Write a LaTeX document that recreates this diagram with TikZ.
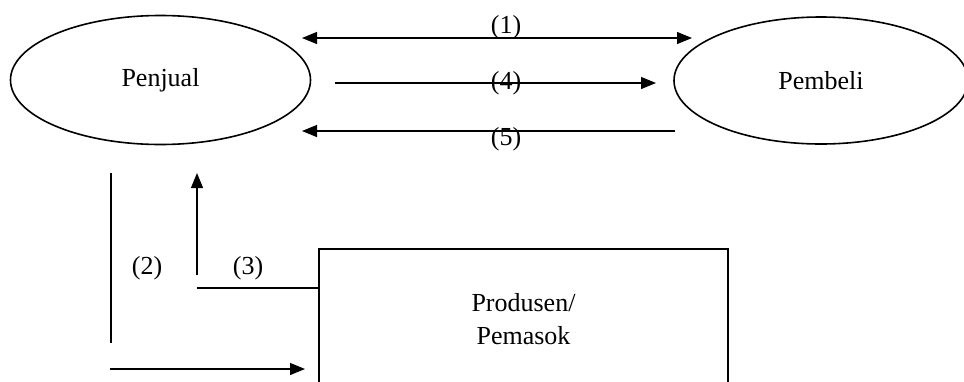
\documentclass[tikz,border=0pt]{standalone}
\usepackage{fontspec}
\setmainfont{Liberation Serif}
\usetikzlibrary{arrows.meta, shapes, positioning}

\tikzset{
  actor/.style={draw, ellipse, line width=1.6pt, minimum width=300pt, minimum height=129pt},
  supplier/.style={draw, rectangle, line width=1.6pt, minimum width=409pt, minimum height=141pt, align=center},
  flow/.style={line width=1.2pt},
  num/.style={inner sep=0pt}
}

\begin{document}
\begin{tikzpicture}[x=1pt, y=-1pt, font=\fontsize{26}{33}\selectfont, >={Triangle[length=15pt,width=12pt]}]
      \useasboundingbox (0,0) rectangle (964,381);
      \clip (0,0) rectangle (964,381);

      % Nodes
      \node[actor] (penjual) at (160.5, 80) {Penjual};
      \node[actor, minimum width=294pt, minimum height=127pt] (pembeli) at (821, 80.5) {Pembeli};
      \node[supplier] (produsen) at (523.5, 319.5) {Produsen/\\Pemasok};

      % Free ends
      \coordinate (a1l) at (302, 38);
      \coordinate (a1r) at (692, 38);
      \coordinate (a4s) at (335, 83);
      \coordinate (a4e) at (656, 83);
      \coordinate (a5s) at (675, 131);
      \coordinate (a5e) at (302, 131);
      \coordinate (a2t) at (111, 173);
      \coordinate (a2b) at (111, 343);
      \coordinate (a2s) at (110, 369);
      \coordinate (a2e) at (305, 369);
      \coordinate (a3c) at (197, 288);
      \coordinate (a3s) at (197, 275);
      \coordinate (a3e) at (197, 173);

      % Edges
      \draw[flow, <->] (a1l) -- (a1r);
      \draw[flow, ->] (a4s) -- (a4e);
      \draw[flow, ->] (a5s) -- (a5e);
      \draw[flow, line width=1.6pt] (a2t) -- (a2b);
      \draw[flow, ->] (a2s) -- (a2e);
      \draw[flow, line width=1.6pt] (a3c) -- (a3c -| produsen.west);
      \draw[flow, ->] (a3s) -- (a3e);

      % Labels
      \node[num] (l1) at (506, 27) {(1)};
      \node[num] (l4) at (506, 83) {(4)};
      \node[num] (l5) at (506, 139) {(5)};
      \node[num] (l2) at (147, 268) {(2)};
      \node[num] (l3) at (248, 268) {(3)};

\end{tikzpicture}
\end{document}
